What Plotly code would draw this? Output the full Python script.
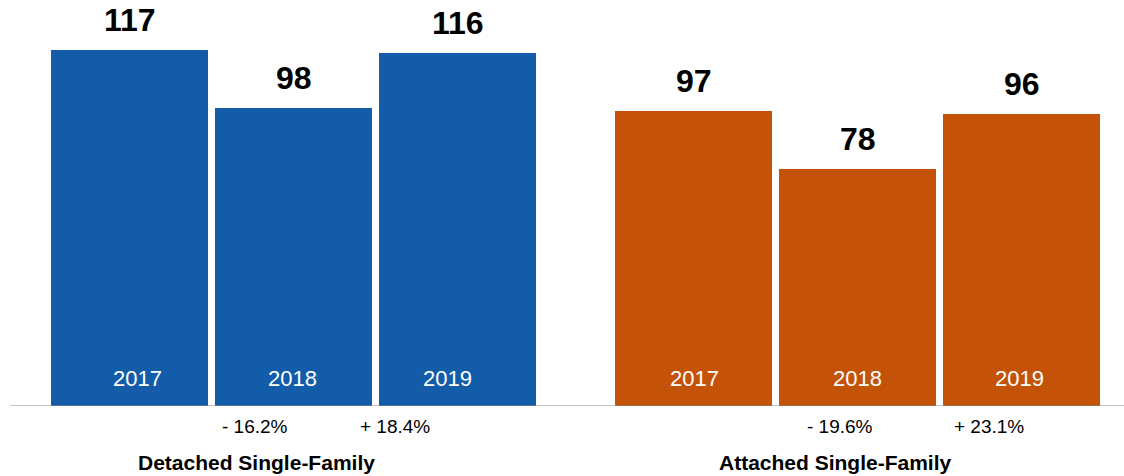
import plotly.graph_objects as go

# Sales by housing type, 2017-2019
groups = ["Detached Single-Family", "Attached Single-Family"]
years = ["2017", "2018", "2019"]
detached = [117, 98, 116]
attached = [97, 78, 96]
detached_change = ["", "- 16.2%", "+ 18.4%"]
attached_change = ["", "- 19.6%", "+ 23.1%"]

colors = ["#125CAA", "#C45308"]
series = [detached, attached]
changes = [detached_change, attached_change]

W, H = 1124, 476
BOTTOM = 70
PX_PER_UNIT = 3.04
PITCH = 164
BAR_W = 157
GROUP_START = [129.5, 693.5]
FONT = "Liberation Sans, Arial, Helvetica, sans-serif"

# horizontal nudges for the in-bar years, change labels and group titles
year_dx = [[8, -1, -10], [1, 0, -2]]
change_dx = [[0, -39, -63], [0, -18, -33]]
title_dx = [-37, -22]

fig = go.Figure()
annotations = []
for g, (vals, col) in enumerate(zip(series, colors)):
    xs = [GROUP_START[g] + i * PITCH for i in range(len(vals))]
    fig.add_trace(go.Bar(
        x=xs, y=vals, width=BAR_W, marker=dict(color=col, line=dict(width=0)),
        showlegend=False, hoverinfo="skip",
    ))
    for i, (x, v) in enumerate(zip(xs, vals)):
        annotations.append(dict(
            x=x, y=v, text=f"<b>{v}</b>", showarrow=False, yanchor="bottom",
            yshift=10, font=dict(family=FONT, size=32, color="black"),
        ))
        annotations.append(dict(
            x=x + year_dx[g][i], y=0, text=years[i], showarrow=False,
            yanchor="middle", yshift=28,
            font=dict(family=FONT, size=22, color="white"),
        ))
        if changes[g][i]:
            annotations.append(dict(
                x=x + change_dx[g][i], y=0, text=changes[g][i], showarrow=False,
                yanchor="middle", yshift=-20,
                font=dict(family=FONT, size=19, color="black"),
            ))
    annotations.append(dict(
        x=xs[1] + title_dx[g], y=0, text=f"<b>{groups[g]}</b>", showarrow=False,
        yanchor="middle", yshift=-56, font=dict(family=FONT, size=21, color="black"),
    ))

shapes = [dict(type="line", x0=10, x1=W, y0=0, y1=0, xref="x", yref="y",
               line=dict(color="#8a8a8a", width=1.2))]
for tx in [10, 501, 574]:
    shapes.append(dict(type="line", x0=tx, x1=tx, y0=0, y1=-6 / PX_PER_UNIT,
                       xref="x", yref="y", line=dict(color="#8a8a8a", width=1)))

fig.update_layout(
    width=W, height=H,
    margin=dict(l=0, r=0, t=0, b=BOTTOM),
    paper_bgcolor="white", plot_bgcolor="white",
    xaxis=dict(range=[0, W], visible=False, fixedrange=True),
    yaxis=dict(range=[0, (H - BOTTOM) / PX_PER_UNIT], visible=False, fixedrange=True),
    annotations=annotations, shapes=shapes, bargap=0,
)
fig.write_html("out.html")
